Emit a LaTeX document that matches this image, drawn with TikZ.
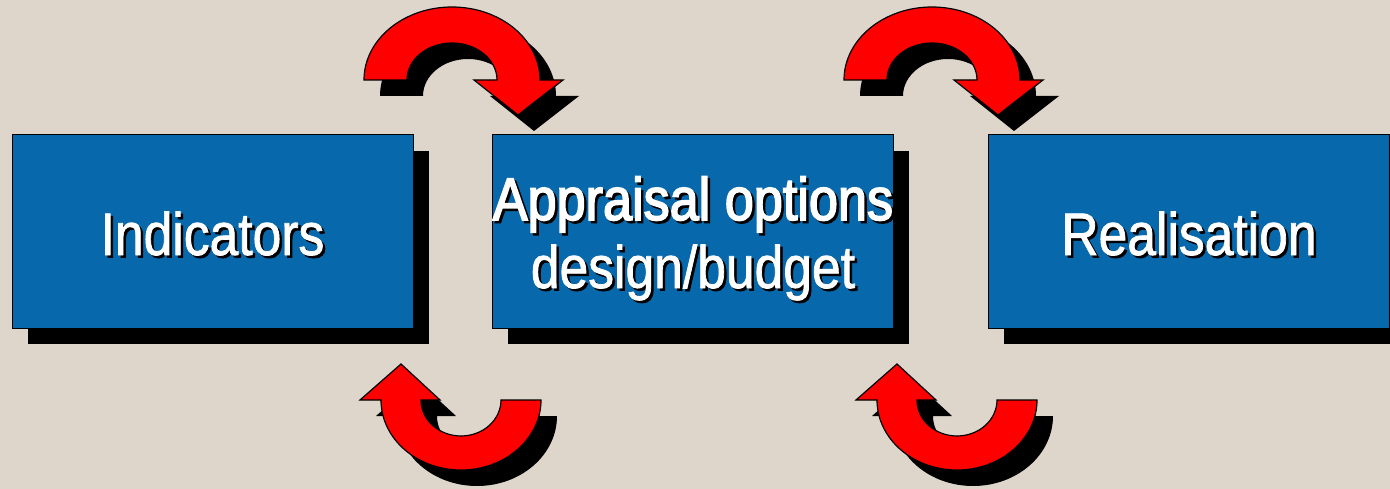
\documentclass[tikz,border=0pt]{standalone}
\usepackage{fontspec}
\newfontfamily\nar{Liberation Sans}[FakeStretch=0.86,FakeBold=1.2]
\newfontfamily\narb{Liberation Sans}[FakeStretch=0.87,FakeBold=2.6]
\usetikzlibrary{shadows}
\definecolor{bgc}{RGB}{222,214,202}
\definecolor{boxc}{RGB}{8,104,172}
\newcommand\shtxt[1]{\leavevmode\rlap{\kern2.5pt\raisebox{-2.5pt}{\color{black}#1}}#1}
\begin{document}
\begin{tikzpicture}[x=1pt,y=-1pt,
  box/.style={draw=black, line width=1pt, fill=boxc, minimum width=401pt,
    minimum height=193pt, inner sep=0pt,
    drop shadow={shadow xshift=16pt, shadow yshift=-16pt, fill=black, draw=none, opacity=1}},
  lbl/.style={text=white, font=\nar\fontsize{60}{68}\selectfont, inner sep=0pt, anchor=base},
  lblb/.style={text=white, font=\narb\fontsize{60}{68}\selectfont, inner sep=0pt, anchor=base},
  arr/.style={fill=red, draw=black, line width=1.2pt, line join=miter},
  arrsh/.style={fill=black},
  toparr/.pic={
    \fill[arrsh, shift={(16,16)}] (-88,0) arc[start angle=180,end angle=360,x radius=88,y radius=73]
      -- (111,0) -- (66,35) -- (22,0) -- (45,0)
      arc[start angle=360,end angle=180,x radius=45,y radius=37] -- cycle;
    \filldraw[arr] (-88,0) arc[start angle=180,end angle=360,x radius=88,y radius=73]
      -- (111,0) -- (66,35) -- (22,0) -- (45,0)
      arc[start angle=360,end angle=180,x radius=45,y radius=37] -- cycle;
  },
  botarr/.pic={
    \fill[arrsh, shift={(16,16)}] (80,0) arc[start angle=0,end angle=180,x radius=80,y radius=70]
      -- (-101,0) -- (-60,-36) -- (-21,0) -- (-40,0)
      arc[start angle=180,end angle=0,x radius=40,y radius=36] -- cycle;
    \filldraw[arr] (80,0) arc[start angle=0,end angle=180,x radius=80,y radius=70]
      -- (-101,0) -- (-60,-36) -- (-21,0) -- (-40,0)
      arc[start angle=180,end angle=0,x radius=40,y radius=36] -- cycle;
  }]
\useasboundingbox (0,0) rectangle (1390,489);
\fill[bgc] (0,0) rectangle (1390,489);

\node[box] (b1) at (212.5,231.5) {};
\node[box] (b2) at (692.5,231.5) {};
\node[box] (b3) at (1188.5,231.5) {};

\node[lbl] (t1) at (212.5,255) {\shtxt{Indicators}};
\node[lblb] (t2a) at (693,220) {\shtxt{Appraisal options}};
\node[lbl] (t2b) at (693,288) {\shtxt{design/budget}};
\node[lbl] (t3) at (1189,255) {\shtxt{Realisation}};

\pic (a1) at (452,80) {toparr};
\pic (a2) at (932,80) {toparr};
\pic (a3) at (461,400) {botarr};
\pic (a4) at (957,400) {botarr};
\end{tikzpicture}
\end{document}
